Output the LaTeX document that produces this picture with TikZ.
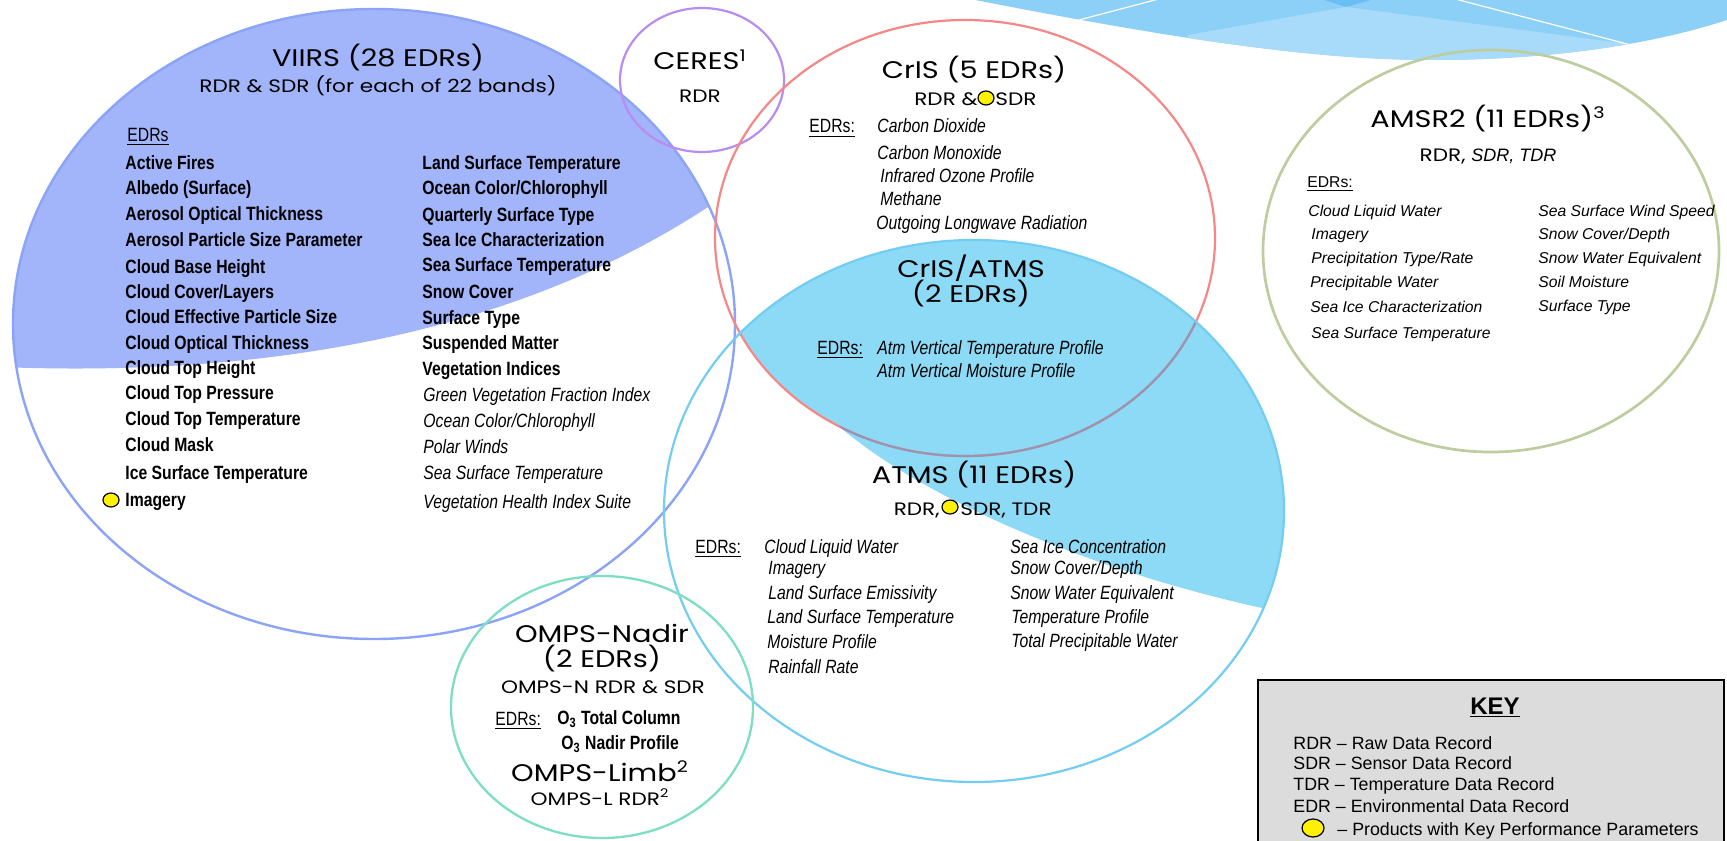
\documentclass[tikz,border=0pt]{standalone}
\usepackage{fontspec}
\setmainfont{Liberation Sans}
\newfontfamily\geo[FakeStretch=1.2]{Poppins}
\newfontfamily\narrow[FakeStretch=0.82]{Liberation Sans}
\usetikzlibrary{shapes.geometric}
\definecolor{viirsfill}{RGB}{162,180,250}
\definecolor{viirsline}{RGB}{140,164,248}
\definecolor{ceresline}{RGB}{185,140,240}
\definecolor{crisline}{RGB}{245,135,135}
\definecolor{overlapline}{RGB}{150,150,178}
\definecolor{atmsfill}{RGB}{141,218,246}
\definecolor{atmsline}{RGB}{115,205,243}
\definecolor{ompsline}{RGB}{125,222,195}
\definecolor{amsrline}{RGB}{190,205,160}
\definecolor{keyfill}{RGB}{220,220,220}
\definecolor{decmed}{RGB}{141,208,247}
\definecolor{declight}{RGB}{167,219,249}
\definecolor{decdark}{RGB}{105,190,245}
\newcommand\ttlf{\geo\fontsize{12}{14}\selectfont}
\newcommand\subf{\geo\fontsize{9}{11}\selectfont}
\newcommand\lstf{\narrow\fontsize{9.6}{11}\selectfont}
\newcommand\amf{\fontsize{7.85}{9}\selectfont}
\newcommand\keyf{\fontsize{8.9}{10}\selectfont}
\newcommand\keyTf{\fontsize{12}{14}\selectfont\bfseries}
\begin{document}
\begin{tikzpicture}[x=0.5pt,y=-0.5pt,
  outline/.style={line width=1.1pt},
  ttl/.style={anchor=base, inner sep=0pt, font=\ttlf},
  sbt/.style={anchor=base, inner sep=0pt, font=\subf},
  lst/.style={anchor=base west, inner sep=0pt, font=\lstf},
  lsti/.style={anchor=base west, inner sep=0pt, font=\lstf\itshape},
  lstb/.style={anchor=base west, inner sep=0pt, font=\lstf\bfseries},
  ams/.style={anchor=base west, inner sep=0pt, font=\amf\itshape},
  keyl/.style={anchor=base west, inner sep=0pt, font=\keyf},
  kpp/.style={ellipse, draw=black, fill=yellow, line width=0.6pt, minimum width=8pt, minimum height=7pt, inner sep=0pt}]
\fill[white] (0,0) rectangle (1727,840);
\useasboundingbox (0,0) rectangle (1727,840);

% top-right decoration
\begin{scope}
\clip (975,0) .. controls (1140,32) and (1300,60) .. (1430,60) .. controls (1550,60) and (1650,45) .. (1727,20) -- (1727,-5) -- (975,-5) -- cycle;
\fill[decmed] (960,-10) rectangle (1740,80);
\fill[declight] (1188,35) -- (1346,7) -- (1629,44) -- (1640,90) -- (1180,90) -- cycle;
\fill[decdark] (1318,-2) -- (1346,7) -- (1378,-2) -- cycle;
\draw[white, line width=0.6pt] (1060,25) -- (1170,-4);
\draw[white, line width=0.6pt] (1440,-5) -- (1650,50);
\end{scope}

% VIIRS fill
\begin{scope}
\clip (374,324) ellipse [x radius=361, y radius=315];
\fill[viirsfill] (0,367) .. controls (280,378) and (540,330) .. (740,185) -- (740,0) -- (0,0) -- cycle;
\end{scope}

% ATMS fill
\begin{scope}
\clip (974,511) ellipse [x radius=310, y radius=271];
\fill[atmsfill] (965,238) ellipse [x radius=250, y radius=218];
\fill[atmsfill] (841,428) .. controls (920,495) and (1080,568) .. (1262,608) -- (1330,640) -- (1330,200) -- (820,200) -- (820,395) -- cycle;
\end{scope}

% outlines
\draw[viirsline, line width=1.2pt] (374,324) ellipse [x radius=361, y radius=315];
\draw[ceresline, outline] (702,80) ellipse [x radius=82, y radius=72];
\draw[crisline, outline] (965,238) ellipse [x radius=250, y radius=218];
\begin{scope}
\clip (974,511) ellipse [x radius=310, y radius=271];
\clip (841,428) .. controls (920,495) and (1080,568) .. (1262,608) -- (1330,640) -- (1330,200) -- (820,200) -- (820,395) -- cycle;
\draw[overlapline, outline] (965,238) ellipse [x radius=250, y radius=218];
\end{scope}
\draw[atmsline, outline] (974,511) ellipse [x radius=310, y radius=271];
\draw[ompsline, line width=1.15pt] (602,707) ellipse [x radius=151, y radius=131];
\draw[amsrline, line width=1.35pt] (1491,251) ellipse [x radius=228, y radius=201];

% VIIRS text
\node[ttl] (viirsT) at (378,67) {VIIRS (28 EDRs)};
\node[sbt] (viirsS) at (378,93) {RDR \& SDR (for each of 22 bands)};
\node[lst] (viirsE) at (127,141) {\underline{EDRs}};
\node[lstb] (v1) at (125,169) {Active Fires};
\node[lstb] (v2) at (125,194) {Albedo (Surface)};
\node[lstb] (v3) at (125,220) {Aerosol Optical Thickness};
\node[lstb] (v4) at (125,246) {Aerosol Particle Size Parameter};
\node[lstb] (v5) at (125,273) {Cloud Base Height};
\node[lstb] (v6) at (125,298) {Cloud Cover/Layers};
\node[lstb] (v7) at (125,323) {Cloud Effective Particle Size};
\node[lstb] (v8) at (125,349) {Cloud Optical Thickness};
\node[lstb] (v9) at (125,374) {Cloud Top Height};
\node[lstb] (v10) at (125,399) {Cloud Top Pressure};
\node[lstb] (v11) at (125,425) {Cloud Top Temperature};
\node[lstb] (v12) at (125,451) {Cloud Mask};
\node[lstb] (v13) at (125,479) {Ice Surface Temperature};
\node[lstb] (v14) at (125,506) {Imagery};
\node[kpp] (kv) at (111,500) {};
\node[lstb] (w1) at (422,169) {Land Surface Temperature};
\node[lstb] (w2) at (422,194) {Ocean Color/Chlorophyll};
\node[lstb] (w3) at (422,221) {Quarterly Surface Type};
\node[lstb] (w4) at (422,246) {Sea Ice Characterization};
\node[lstb] (w5) at (422,271) {Sea Surface Temperature};
\node[lstb] (w6) at (422,298) {Snow Cover};
\node[lstb] (w7) at (422,324) {Surface Type};
\node[lstb] (w8) at (422,349) {Suspended Matter};
\node[lstb] (w9) at (422,375) {Vegetation Indices};
\node[lsti] (w10) at (423,401) {Green Vegetation Fraction Index};
\node[lsti] (w11) at (423,427) {Ocean Color/Chlorophyll};
\node[lsti] (w12) at (423,453) {Polar Winds};
\node[lsti] (w13) at (423,479) {Sea Surface Temperature};
\node[lsti] (w14) at (423,508) {Vegetation Health Index Suite};

% CERES
\node[ttl] (ceresT) at (700,70) {CERES\textsuperscript{1}};
\node[sbt] (ceresR) at (700,103) {RDR};

% CrIS
\node[ttl] (crisT) at (974,79) {CrIS (5 EDRs)};
\node[sbt, anchor=base east] (crisR) at (978,105) {RDR \&};
\node[kpp] (kc) at (986,98) {};
\node[sbt, anchor=base west] (crisS) at (995,105) {SDR};
\node[lst] (crisE) at (809,133) {\underline{EDRs:}};
\node[lsti] (c1) at (877,133) {Carbon Dioxide};
\node[lsti] (c2) at (877,159) {Carbon Monoxide};
\node[lsti] (c3) at (880,182) {Infrared Ozone Profile};
\node[lsti] (c4) at (880,205) {Methane};
\node[lsti] (c5) at (876,229) {Outgoing Longwave Radiation};

% CrIS/ATMS
\node[ttl] (caT1) at (971,277) {CrIS/ATMS};
\node[ttl] (caT2) at (971,302) {(2 EDRs)};
\node[lst] (caE) at (817,354) {\underline{EDRs:}};
\node[lsti] (ca1) at (877,354) {Atm Vertical Temperature Profile};
\node[lsti] (ca2) at (877,377) {Atm Vertical Moisture Profile};

% ATMS
\node[ttl] (atmsT) at (974,483) {ATMS (11 EDRs)};
\node[sbt, anchor=base east] (atmsR) at (940,515) {RDR,};
\node[kpp] (ka) at (950,507) {};
\node[sbt, anchor=base west] (atmsS) at (960,515) {SDR, TDR};
\node[lst] (atmsE) at (695,553) {\underline{EDRs:}};
\node[lsti] (a1) at (764,553) {Cloud Liquid Water};
\node[lsti] (a2) at (768,574) {Imagery};
\node[lsti] (a3) at (768,599) {Land Surface Emissivity};
\node[lsti] (a4) at (767,623) {Land Surface Temperature};
\node[lsti] (a5) at (767,648) {Moisture Profile};
\node[lsti] (a6) at (768,673) {Rainfall Rate};
\node[lsti] (b1) at (1010,553) {Sea Ice Concentration};
\node[lsti] (b2) at (1010,574) {Snow Cover/Depth};
\node[lsti] (b3) at (1010,599) {Snow Water Equivalent};
\node[lsti] (b4) at (1011,623) {Temperature Profile};
\node[lsti] (b5) at (1011,647) {Total Precipitable Water};

% AMSR2
\node[ttl] (amT) at (1488,127) {AMSR2 (11 EDRs)\textsuperscript{3}};
\node[sbt] (amR) at (1488,161) {RDR, {\normalfont\itshape SDR, TDR}};
\node[anchor=base west, inner sep=0pt, font=\amf] (amE) at (1307,187) {\underline{EDRs:}};
\node[ams] (m1) at (1308,216) {Cloud Liquid Water};
\node[ams] (m2) at (1311,239) {Imagery};
\node[ams] (m3) at (1311,263) {Precipitation Type/Rate};
\node[ams] (m4) at (1310,287) {Precipitable Water};
\node[ams] (m5) at (1310,312) {Sea Ice Characterization};
\node[ams] (m6) at (1311,338) {Sea Surface Temperature};
\node[ams] (n1) at (1538,216) {Sea Surface Wind Speed};
\node[ams] (n2) at (1538,239) {Snow Cover/Depth};
\node[ams] (n3) at (1538,263) {Snow Water Equivalent};
\node[ams] (n4) at (1538,287) {Soil Moisture};
\node[ams] (n5) at (1538,311) {Surface Type};

% OMPS
\node[ttl] (oT1) at (602,642) {OMPS-Nadir};
\node[ttl] (oT2) at (602,667) {(2 EDRs)};
\node[sbt] (oS) at (603,693) {OMPS-N RDR \& SDR};
\node[lst] (oE) at (495,725) {\underline{EDRs:}};
\node[lstb] (o1) at (557,724) {O\textsubscript{3} Total Column};
\node[lstb] (o2) at (561,749) {O\textsubscript{3} Nadir Profile};
\node[ttl] (oL) at (600,781) {OMPS-Limb\textsuperscript{2}};
\node[sbt] (oLR) at (600,805) {OMPS-L RDR\textsuperscript{2}};

% KEY
\draw[black, fill=keyfill, line width=1.3pt] (1258,680) rectangle (1724,850);
\node[anchor=base, inner sep=0pt, font=\keyTf] (keyT) at (1495,714) {\underline{KEY}};
\node[keyl] (k1) at (1293,749) {RDR \textendash{} Raw Data Record};
\node[keyl] (k2) at (1293,769) {SDR \textendash{} Sensor Data Record};
\node[keyl] (k3) at (1293,790) {TDR \textendash{} Temperature Data Record};
\node[keyl] (k4) at (1293,812) {EDR \textendash{} Environmental Data Record};
\node[kpp, minimum width=11pt, minimum height=9pt] (kk) at (1313,828) {};
\node[keyl] (k5) at (1337,835) {\textendash{} Products with Key Performance Parameters};
\end{tikzpicture}
\end{document}
